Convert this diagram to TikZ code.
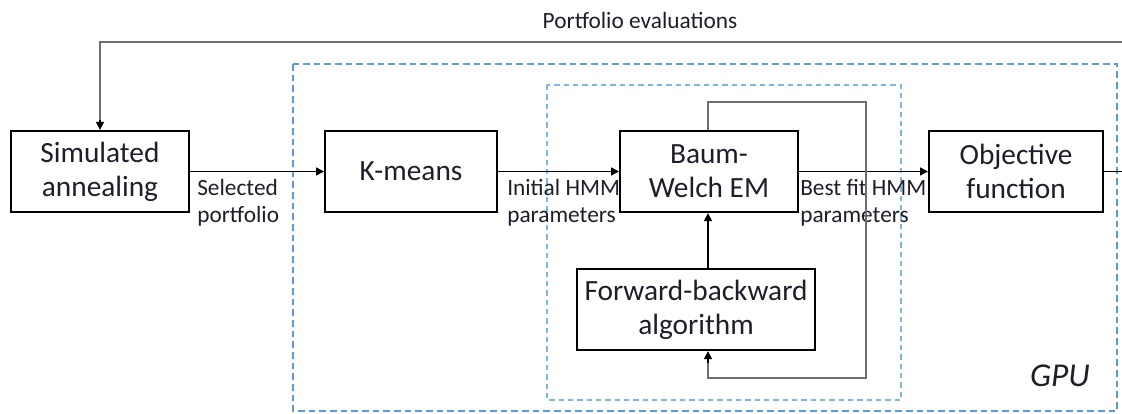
\documentclass[tikz,border=0pt]{standalone}
\usepackage{fontspec}
\setmainfont{Carlito}
\usetikzlibrary{arrows.meta,calc}
\definecolor{txt}{HTML}{1E1E2A}
\definecolor{gpublue}{HTML}{5B9BD5}
\definecolor{innerblue}{HTML}{7CB8DC}
\definecolor{fbgray}{HTML}{6E6E6E}
\tikzset{
  blk/.style={draw=black, line width=1.5pt, minimum height=61pt, inner sep=0pt, align=center, font=\fontsize{22}{25.5}\selectfont, text=txt},
  lbl/.style={inner sep=0pt, align=left, font=\fontsize{17.5}{20}\selectfont, text=txt, anchor=north west},
  arr/.style={draw=black, line width=1.1pt, -{Triangle[length=6pt,width=6pt]}},
  grayline/.style={draw=fbgray, line width=1.6pt},
  outerdash/.style={draw=gpublue, line width=1.3pt, dash pattern=on 5pt off 3pt},
  innerdash/.style={draw=innerblue, line width=1.1pt, dash pattern=on 4pt off 3pt},
}
\begin{document}
\begin{tikzpicture}[x=0.75pt,y=-0.75pt]
\useasboundingbox (0,0) rectangle (1122,414);
% dashed regions
\draw[outerdash] (293,64) rectangle (1117,411);
\draw[innerdash] (547,85) rectangle (901,400);
\node[inner sep=0pt, font=\fontsize{25}{28}\selectfont\itshape, text=txt] (gpu) at (1060,376) {GPU};
% blocks
\node[blk, minimum width=133.5pt] (sa) at (100,171.5) {Simulated\\annealing};
\node[blk, minimum width=129pt] (km) at (411,171.5) {K-means};
\node[blk, minimum width=133.5pt] (bw) at (709,171.5) {Baum-\\Welch EM};
\node[blk, minimum width=130.5pt] (of) at (1016,171.5) {Objective\\function};
\node[blk, minimum width=178.5pt, minimum height=61pt] (fb) at (696,309.5) {Forward-backward\\algorithm};
% coordinates
\coordinate (topR) at (1125,42);
\coordinate (outR) at (1125,171.5);
\coordinate (c1) at (866,102);
\coordinate (c2) at (708,378);
% feedback from outside
\draw[grayline, line width=2.2pt] (topR) -| ($(sa.north)+(0,-9)$);
\draw[arr] ($(sa.north)+(0,-10)$) -- (sa.north);
\node[inner sep=0pt, font=\fontsize{17.5}{20}\selectfont, text=txt] (pe) at (640,20) {Portfolio evaluations};
% main chain
\draw[arr] (sa.east) -- (km.west);
\draw[arr] (km.east) -- (bw.west);
\draw[arr] (bw.east) -- (of.west);
\draw[draw=black, line width=1.1pt] (of.east) -- (outR);
% labels
\node[lbl] (l1) at (197,179) {Selected\\portfolio};
\node[lbl] (l2) at (507,179) {Initial HMM\\parameters};
\node[lbl] (l3) at (800,179) {Best fit HMM\\parameters};
% inner loop
\draw[grayline] (bw.north -| c2) |- (c1) |- (c2) -- ($(c2 |- fb.south)+(0,10)$);
\draw[arr] ($(c2 |- fb.south)+(0,12)$) -- (c2 |- fb.south);
\draw[arr] (c2 |- fb.north) -- (c2 |- bw.south);
\end{tikzpicture}
\end{document}
